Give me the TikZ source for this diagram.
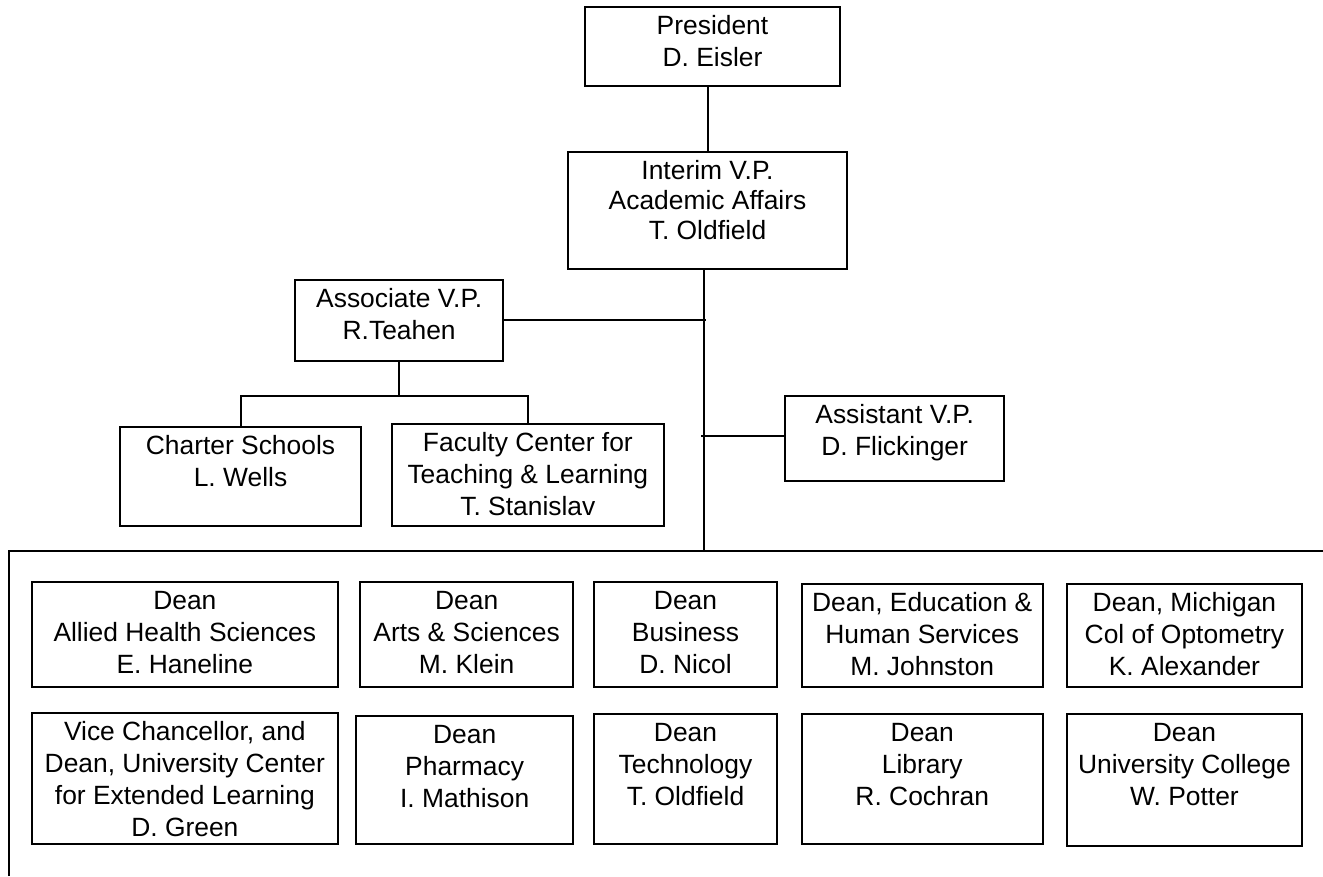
\documentclass[tikz,border=0pt]{standalone}
\usepackage{fontspec}
\setmainfont{Liberation Sans}
\newcommand{\bx}[4][32]{\parbox[c][#3pt][t]{#2pt}{\fontsize{26.4pt}{#1pt}\selectfont\centering\rule{0pt}{27.3pt}#4}}
\begin{document}
\begin{tikzpicture}[x=1pt,y=-1pt,
  obox/.style={draw, line width=2pt, inner sep=0pt, outer sep=0pt, anchor=north west, rectangle},
  conn/.style={draw, line width=2pt}]
\useasboundingbox (0,0) rectangle (1323,876);
% top chain
\node[obox] (pres) at (585,7.3) {\bx{255}{78.7}{President\\D. Eisler}};
\node[obox] (ivp) at (568.3,152) {\bx[30]{278.4}{117.3}{Interim V.P.\\Academic Affairs\\T. Oldfield}};
\node[obox] (assoc) at (295,280) {\bx{208.3}{80.7}{Associate V.P.\\R.Teahen}};
\node[obox] (charter) at (120,426.7) {\bx{241}{99.3}{Charter Schools\\L. Wells}};
\node[obox] (fctl) at (391.7,424.3) {\bx{272.3}{101.7}{Faculty Center for\\Teaching \& Learning\\T. Stanislav}};
\node[obox] (asst) at (785,396) {\bx{219.3}{85.3}{Assistant V.P.\\D. Flickinger}};
% deans row 1
\node[obox] (ahs) at (31.7,582) {\bx{306.3}{105}{Dean\\Allied Health Sciences\\E. Haneline}};
\node[obox] (as) at (360,582) {\bx{213.3}{105}{Dean\\Arts \& Sciences\\M. Klein}};
\node[obox] (bus) at (593.7,582) {\bx{183.6}{105}{Dean\\Business\\D. Nicol}};
\node[obox] (ehs) at (802,584) {\bx{240.5}{103}{Dean, Education \&\\Human Services\\M. Johnston}};
\node[obox] (opt) at (1067.4,584) {\bx{234.1}{103}{Dean, Michigan\\Col of Optometry\\K. Alexander}};
% deans row 2
\node[obox] (ucel) at (31.7,713.3) {\bx{306.3}{130.7}{Vice Chancellor, and\\Dean, University Center\\for Extended Learning\\D. Green}};
\node[obox] (pha) at (356,715.7) {\bx{217.3}{128.3}{Dean\\Pharmacy\\I. Mathison}};
\node[obox] (tech) at (593.7,714) {\bx{183.6}{130}{Dean\\Technology\\T. Oldfield}};
\node[obox] (lib) at (802,714) {\bx{240.5}{130}{Dean\\Library\\R. Cochran}};
\node[obox] (uc) at (1067.4,714) {\bx{234.1}{132}{Dean\\University College\\W. Potter}};
% helper coordinates
\coordinate (spine) at (704,551);
\coordinate (aj) at (706,320.5);
\coordinate (sj) at (701,436.3);
\coordinate (bar) at (238.3,396);
\coordinate (frameBL) at (9,876);
\coordinate (frameTL) at (9,551);
\coordinate (frameTR) at (1323,551);
% connectors
\draw[conn] (ivp.north) -- (ivp.north |- pres.south);
\draw[conn] (ivp.south -| spine) -- (spine);
\draw[conn] (assoc.east) -- (assoc.east -| aj);
\draw[conn] (sj) -- (sj -| asst.west);
\draw[conn] (assoc.south) -- (assoc.south |- bar);
\draw[conn] (charter.north) -- (charter.north |- bar) -- (fctl.north |- bar) -- (fctl.north);
\draw[conn] (frameBL) -- (frameTL) -- (frameTR);
\end{tikzpicture}
\end{document}
